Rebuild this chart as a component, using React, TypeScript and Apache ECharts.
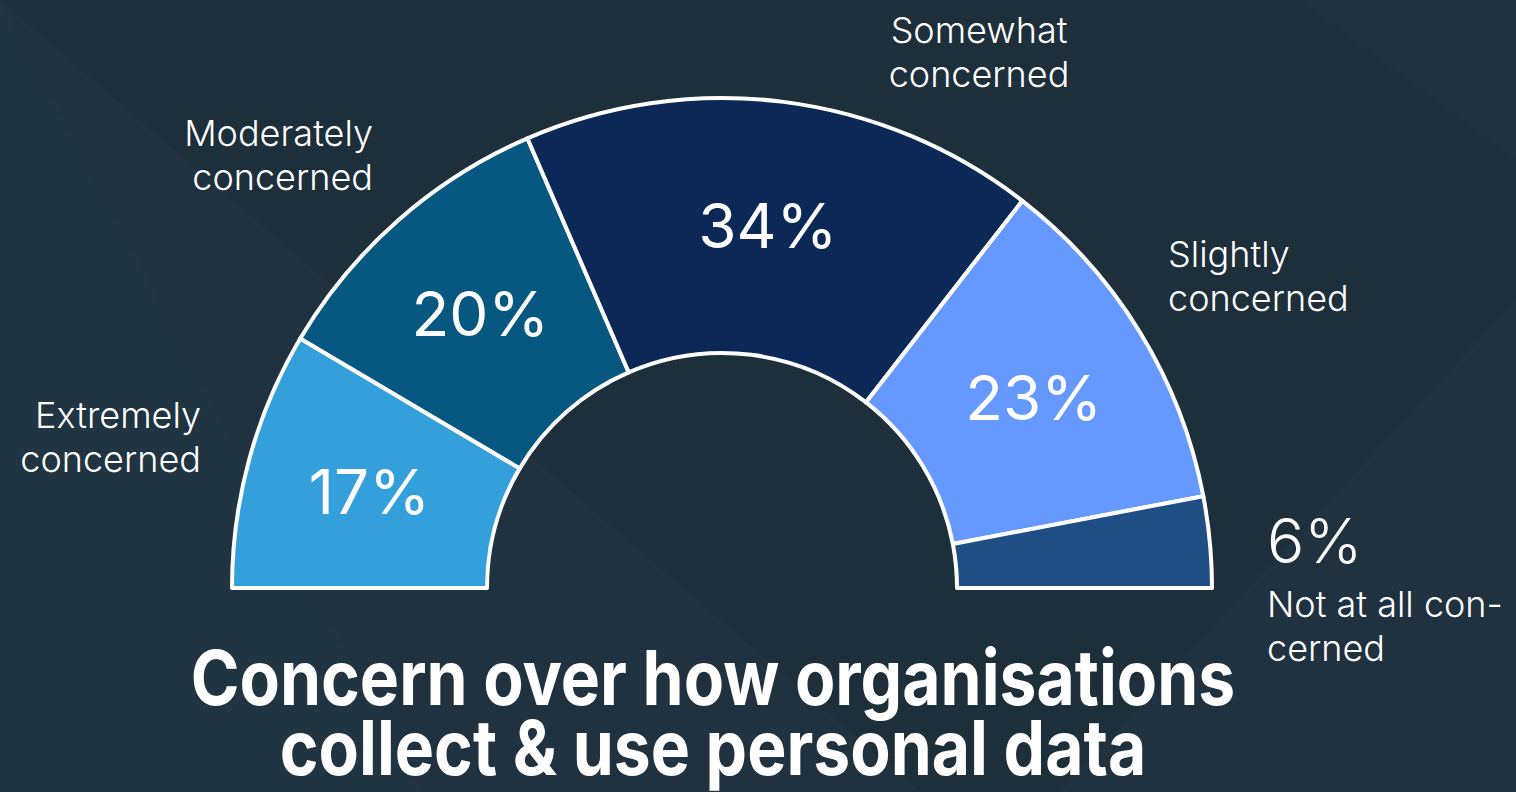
import React, { useEffect, useRef } from "react";
import * as echarts from "echarts";

const categories = [
  "Extremely concerned",
  "Moderately concerned",
  "Somewhat concerned",
  "Slightly concerned",
  "Not at all concerned",
];
const values = [17, 20, 34, 23, 6];
const outerLabelTexts = [
  "Extremely\nconcerned",
  "Moderately\nconcerned",
  "Somewhat\nconcerned",
  "Slightly\nconcerned",
  "Not at all con-\ncerned",
];
const insideLabelShown = [true, true, true, true, false];
const colors = ["#33a0db", "#065880", "#0c2857", "#6699ff", "#1f4e85"];
const titleLines = ["Concern over how organisations", "collect & use personal data"];

// label anchor positions (layout only)
const labelAnchors = [
  { x: 201, y: 393, align: "right" },
  { x: 373, y: 111, align: "right" },
  { x: 979, y: 8, align: "center" },
  { x: 1168, y: 232, align: "left" },
  { x: 1267, y: 498, align: "left" },
];

export default function App() {
  const ref = useRef<HTMLDivElement>(null);
  useEffect(() => {
    if (!ref.current) return;
    const chart = echarts.init(ref.current, null, { renderer: "svg" });
    const pieData = categories.map((name, i) => ({
      name,
      value: values[i],
      itemStyle: { color: colors[i] },
      label: { show: insideLabelShown[i] },
    }));
    const labelData = categories.map((name, i) => ({
      name,
      value: values[i],
      label:
        i === 4
          ? {
              formatter: () => `{big|${values[i]}%}\n{nm|${outerLabelTexts[i].split("\n").join("}\n{nm|")}}`,
            }
          : { formatter: () => outerLabelTexts[i] },
    }));
    chart.setOption({
      animation: false,
      backgroundColor: "transparent",
      graphic: [
        {
          type: "polygon",
          z: -10,
          silent: true,
          shape: { points: [[0, 0], [920, 792], [0, 792]] },
          style: { fill: "rgba(60,95,120,0.06)" },
        },
        {
          type: "polygon",
          z: -10,
          silent: true,
          shape: { points: [[0, 0], [420, 792], [0, 792]] },
          style: { fill: "rgba(60,95,120,0.04)" },
        },
        {
          type: "polygon",
          z: -10,
          silent: true,
          shape: { points: [[1516, 300], [1516, 792], [1060, 792]] },
          style: { fill: "rgba(60,95,120,0.06)" },
        },
        {
          type: "polygon",
          z: -10,
          silent: true,
          shape: { points: [[1300, 0], [1516, 0], [1516, 160]] },
          style: { fill: "rgba(60,95,120,0.05)" },
        },
        ...titleLines.map((t, i) => ({
          type: "text",
          x: 713,
          y: 677 + i * 70,
          scaleX: 0.868,
          z: 10,
          style: {
            text: t,
            fill: "#ffffff",
            font: "700 76px Inter",
            align: "center",
            verticalAlign: "middle",
          },
        })),
      ],
      series: [
        {
          type: "pie",
          center: [722, 588],
          radius: [235, 490],
          startAngle: 180,
          endAngle: 0,
          clockwise: true,
          avoidLabelOverlap: false,
          silent: true,
          data: pieData,
          itemStyle: { borderColor: "#ffffff", borderWidth: 4 },
          label: {
            show: true,
            position: "inside",
            formatter: "{c}%",
            color: "#ffffff",
            fontFamily: "Inter",
            fontWeight: 400,
            fontSize: 62,
          },
          labelLine: { show: false },
        },
        {
          type: "pie",
          center: [722, 588],
          radius: [235, 490],
          startAngle: 180,
          endAngle: 0,
          clockwise: true,
          avoidLabelOverlap: false,
          silent: true,
          data: labelData,
          itemStyle: { color: "transparent", borderWidth: 0 },
          label: {
            show: true,
            position: "outside",
            color: "#ffffff",
            fontFamily: "Inter",
            fontWeight: 300,
            fontSize: 36,
            lineHeight: 44,
            rich: {
              big: { fontSize: 62, lineHeight: 84, fontFamily: "Inter", fontWeight: 300, color: "#ffffff" },
              nm: { fontSize: 36, lineHeight: 44, fontFamily: "Inter", fontWeight: 300, color: "#ffffff" },
            },
          },
          labelLine: { show: false },
          labelLayout: (params: any) => {
            const a = labelAnchors[params.dataIndex];
            return { x: a.x, y: a.y, align: a.align, verticalAlign: "top" };
          },
        },
      ],
    });
    return () => chart.dispose();
  }, []);
  return (
    <div
      style={{
        position: "fixed",
        left: 0,
        top: 0,
        width: 1516,
        height: 792,
        background: "#1e2f3c",
      }}
    >
      <div ref={ref} style={{ width: 1516, height: 792 }} />
    </div>
  );
}
